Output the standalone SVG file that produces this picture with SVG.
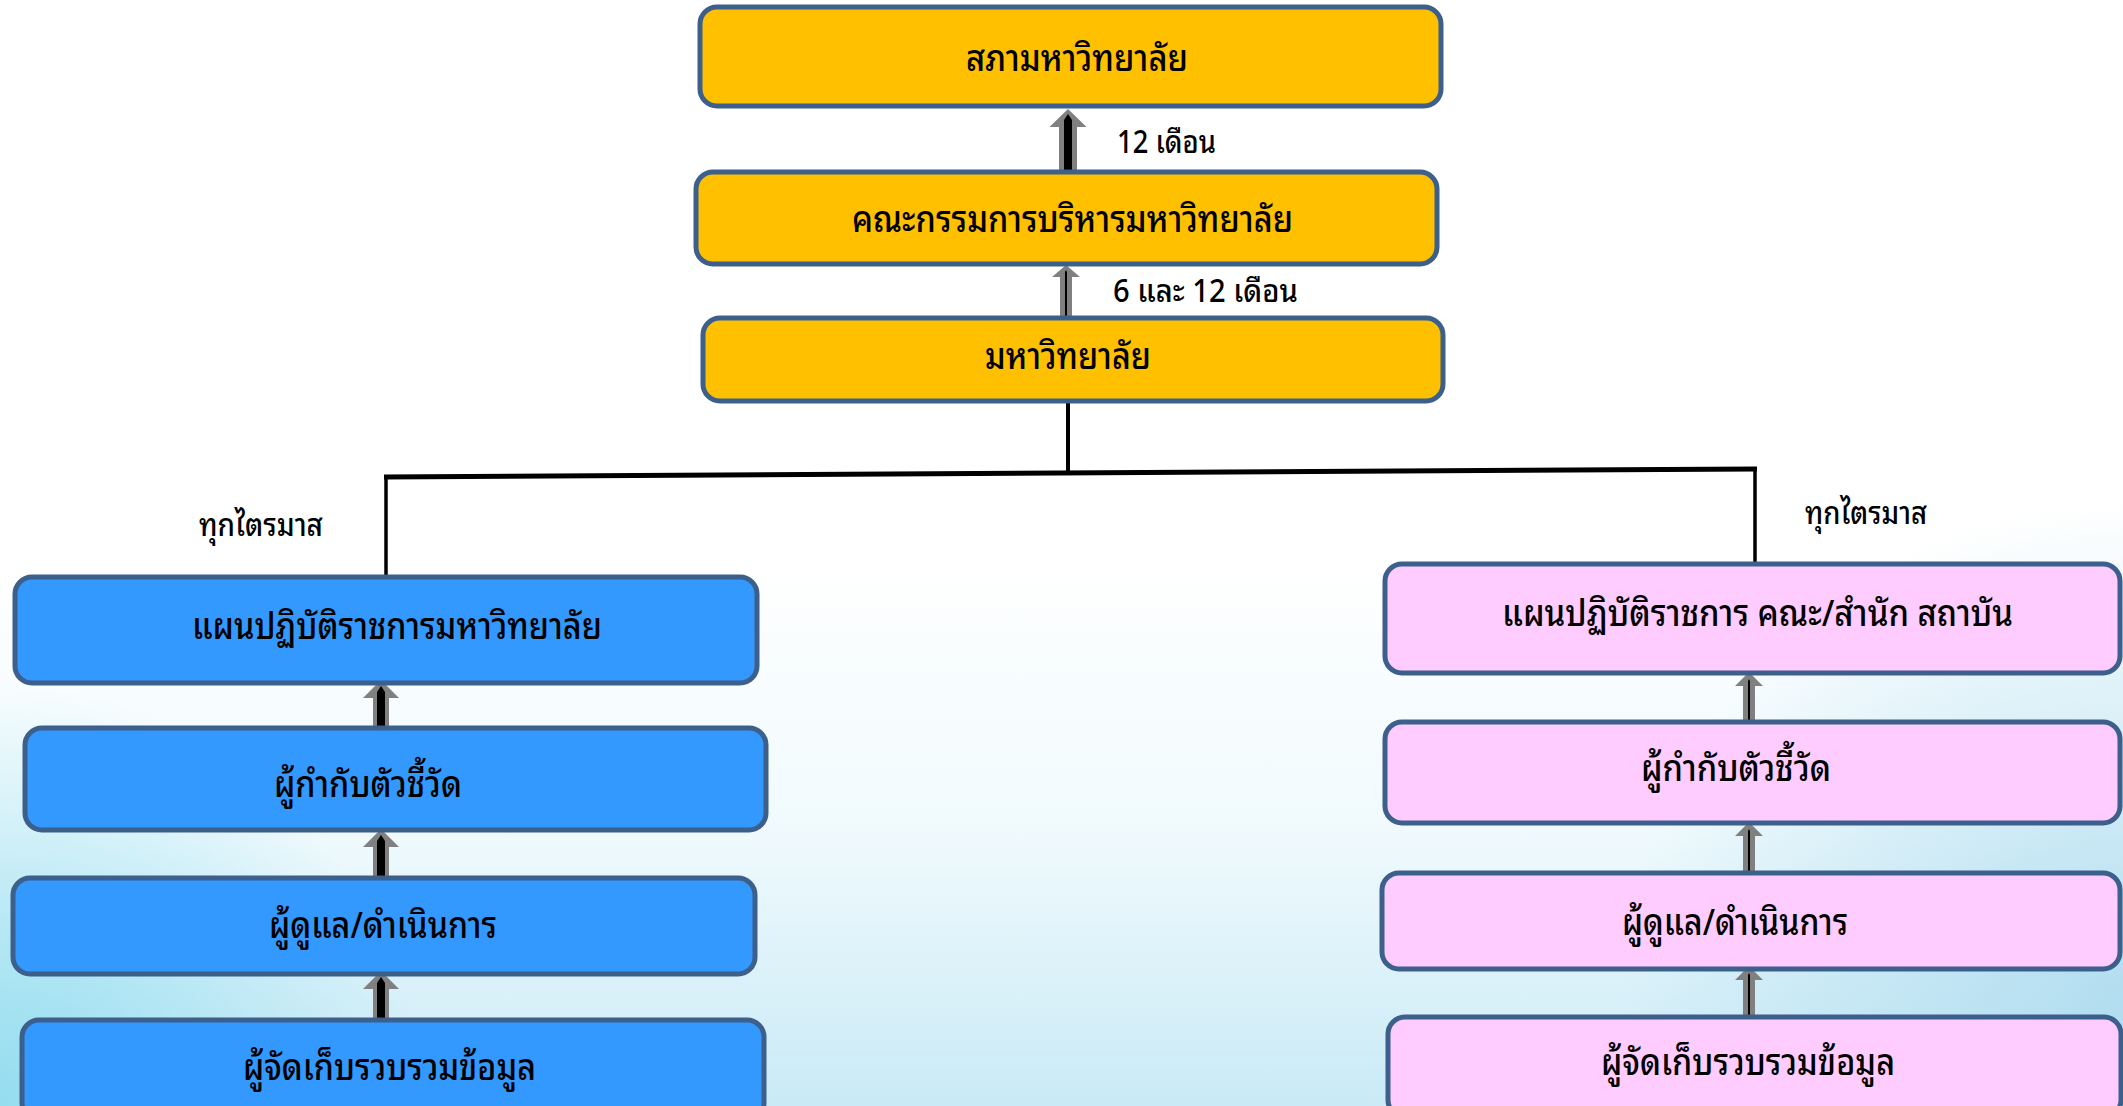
<svg xmlns="http://www.w3.org/2000/svg" width="2123" height="1106" viewBox="0 0 2123 1106">
<defs>
<linearGradient id="bg" x1="0" y1="0" x2="0" y2="1">
<stop offset="0" stop-color="#ffffff"/>
<stop offset="0.5" stop-color="#ffffff"/>
<stop offset="0.75" stop-color="#f0fafd"/>
<stop offset="1" stop-color="#c9eaf6"/>
</linearGradient>
<radialGradient id="blobL" cx="0" cy="1106" r="420" gradientUnits="userSpaceOnUse">
<stop offset="0" stop-color="#8fdcef" stop-opacity="0.9"/>
<stop offset="1" stop-color="#8fdcef" stop-opacity="0"/>
</radialGradient>
<radialGradient id="blobR" cx="2123" cy="1000" r="500" gradientUnits="userSpaceOnUse">
<stop offset="0" stop-color="#a9d9ee" stop-opacity="0.8"/>
<stop offset="1" stop-color="#a9d9ee" stop-opacity="0"/>
</radialGradient>
</defs>
<style>
.box{stroke:#3d5f8c;stroke-width:5}
.y{fill:#ffc000}
.b{fill:#3399ff}
.p{fill:#ffccff}
.t{font-family:"Noto Sans Thai Looped","Noto Sans Thai","Noto Sans","DejaVu Sans",sans-serif;font-size:36px;font-weight:500;fill:#000;text-anchor:middle}
.l{font-family:"Noto Sans Thai Looped","Noto Sans Thai","Noto Sans","DejaVu Sans",sans-serif;font-size:32px;font-weight:500;fill:#000}
.ag{fill:#808080}
.ak{fill:#000}
.ln{stroke:#000;fill:none}
</style>
<rect width="2123" height="1106" fill="url(#bg)"/>
<rect width="2123" height="1106" fill="url(#blobL)"/>
<rect width="2123" height="1106" fill="url(#blobR)"/>

<g id="connectors">
<line class="ln" x1="1068" y1="401" x2="1068" y2="472" stroke-width="4"/>
<line class="ln" x1="384" y1="477" x2="1757" y2="469" stroke-width="5"/>
<line class="ln" x1="386" y1="475" x2="386" y2="578" stroke-width="3.5"/>
<line class="ln" x1="1755" y1="467" x2="1755" y2="565" stroke-width="3.5"/>
<g id="arrow-top1">
<polygon class="ag" points="1059,173 1059,127 1049.5,127 1068,109 1086.5,127 1077,127 1077,173"/>
<polygon class="ak" points="1064,172 1064,120 1068,114 1072,120 1072,172"/>
</g>
<g id="arrow-top2">
<polygon class="ag" points="1060,322 1060,277 1052,277 1066,265 1080,277 1072,277 1072,322"/>
<polygon class="ak" points="1065,321 1065,272 1066,270 1067,272 1067,321"/>
</g>
<g id="arrow-l1">
<polygon class="ag" points="373,732 373,698 363,698 381,680 399,698 389,698 389,732"/>
<polygon class="ak" points="377,731 377,692 381,686 385,692 385,731"/>
</g>
<g id="arrow-l2">
<polygon class="ag" points="373,878 373,847 363,847 381,829 399,847 389,847 389,878"/>
<polygon class="ak" points="377,877 377,841 381,835 385,841 385,877"/>
</g>
<g id="arrow-l3">
<polygon class="ag" points="373,1022 373,989 363,989 381,971 399,989 389,989 389,1022"/>
<polygon class="ak" points="377,1021 377,983 381,977 385,983 385,1021"/>
</g>
<g id="arrow-r1">
<polygon class="ag" points="1743,724 1743,686 1735,686 1749,672 1763,686 1755,686 1755,724"/>
<polygon class="ak" points="1748,723 1748,681 1749,679 1750,681 1750,723"/>
</g>
<g id="arrow-r2">
<polygon class="ag" points="1743,873 1743,836 1735,836 1749,822 1763,836 1755,836 1755,873"/>
<polygon class="ak" points="1748,872 1748,831 1749,829 1750,831 1750,872"/>
</g>
<g id="arrow-r3">
<polygon class="ag" points="1743,1017 1743,980 1735,980 1749,966 1763,980 1755,980 1755,1017"/>
<polygon class="ak" points="1748,1016 1748,975 1749,973 1750,975 1750,1016"/>
</g>
</g>

<g id="label-12">
<text class="l" x="1117" y="153" textLength="99" lengthAdjust="spacingAndGlyphs">12 เดือน</text>
</g>
<g id="label-6-12">
<text class="l" x="1113" y="302" textLength="185" lengthAdjust="spacingAndGlyphs">6 และ 12 เดือน</text>
</g>
<g id="label-q-left">
<text class="l" x="199" y="536" textLength="124" lengthAdjust="spacingAndGlyphs">ทุกไตรมาส</text>
</g>
<g id="label-q-right">
<text class="l" x="1805" y="524" textLength="122" lengthAdjust="spacingAndGlyphs">ทุกไตรมาส</text>
</g>

<g id="node-council">
<rect class="box y" x="700" y="7" width="741" height="99" rx="17"/>
<text class="t" x="1077" y="71" textLength="222" lengthAdjust="spacingAndGlyphs">สภามหาวิทยาลัย</text>
</g>
<g id="node-exec">
<rect class="box y" x="696" y="172" width="741" height="92" rx="17"/>
<text class="t" x="1072.5" y="232" textLength="441" lengthAdjust="spacingAndGlyphs">คณะกรรมการบริหารมหาวิทยาลัย</text>
</g>
<g id="node-univ">
<rect class="box y" x="703" y="318" width="740" height="83" rx="17"/>
<text class="t" x="1068" y="369" textLength="166" lengthAdjust="spacingAndGlyphs">มหาวิทยาลัย</text>
</g>

<g id="node-l1">
<rect class="box b" x="15" y="577" width="742" height="106" rx="17"/>
<text class="t" x="397" y="639" textLength="410" lengthAdjust="spacingAndGlyphs">แผนปฏิบัติราชการมหาวิทยาลัย</text>
</g>
<g id="node-l2">
<rect class="box b" x="25" y="728" width="741" height="102" rx="17"/>
<text class="t" x="368" y="797" textLength="188" lengthAdjust="spacingAndGlyphs">ผู้กำกับตัวชี้วัด</text>
</g>
<g id="node-l3">
<rect class="box b" x="13" y="878" width="742" height="96" rx="17"/>
<text class="t" x="383" y="938" textLength="228" lengthAdjust="spacingAndGlyphs">ผู้ดูแล/ดำเนินการ</text>
</g>
<g id="node-l4">
<rect class="box b" x="22" y="1020" width="742" height="100" rx="17"/>
<text class="t" x="389.5" y="1080" textLength="293" lengthAdjust="spacingAndGlyphs">ผู้จัดเก็บรวบรวมข้อมูล</text>
</g>

<g id="node-r1">
<rect class="box p" x="1385" y="564" width="735" height="109" rx="17"/>
<text class="t" x="1757.5" y="626" textLength="511" lengthAdjust="spacingAndGlyphs">แผนปฏิบัติราชการ คณะ/สำนัก สถาบัน</text>
</g>
<g id="node-r2">
<rect class="box p" x="1385" y="722" width="735" height="101" rx="17"/>
<text class="t" x="1736" y="781" textLength="190" lengthAdjust="spacingAndGlyphs">ผู้กำกับตัวชี้วัด</text>
</g>
<g id="node-r3">
<rect class="box p" x="1382" y="873" width="738" height="96" rx="17"/>
<text class="t" x="1735" y="935" textLength="226" lengthAdjust="spacingAndGlyphs">ผู้ดูแล/ดำเนินการ</text>
</g>
<g id="node-r4">
<rect class="box p" x="1388" y="1017" width="733" height="100" rx="17"/>
<text class="t" x="1748" y="1075" textLength="294" lengthAdjust="spacingAndGlyphs">ผู้จัดเก็บรวบรวมข้อมูล</text>
</g>
</svg>
